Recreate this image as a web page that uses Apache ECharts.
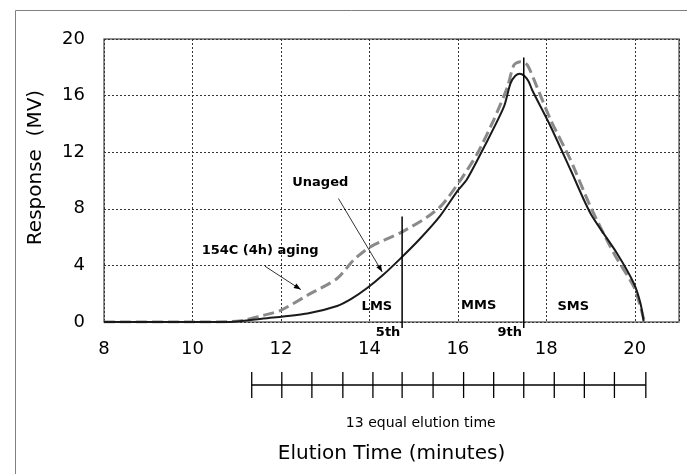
<!DOCTYPE html>
<html>
<head>
<meta charset="utf-8">
<script src="https://cdn.jsdelivr.net/npm/echarts@6/dist/echarts.min.js"></script>
<style>
html, body { margin: 0; padding: 0; background: #fff; }
#chart { width: 687px; height: 474px; }
</style>
</head>
<body>
<div id="chart"></div>
<script>
// Chromatogram: elution time (minutes) vs. detector response (MV)
const unagedTime = [8.0, 9.0, 10.0, 10.85, 11.6, 12.6, 13.27, 13.6, 13.95, 14.3, 14.7, 15.15, 15.6, 16.0, 16.2, 16.6, 17.04, 17.19, 17.3, 17.4, 17.5, 17.6, 17.68, 18.1, 18.55, 19.0, 19.6, 19.98, 20.13, 20.2];
const unagedResp = [0, 0, 0, 0, 0.24, 0.6, 1.13, 1.65, 2.4, 3.3, 4.48, 5.9, 7.5, 9.3, 10.05, 12.4, 15.2, 16.87, 17.4, 17.55, 17.4, 17.0, 16.4, 13.8, 10.74, 7.67, 4.84, 2.72, 1.3, 0.05];

const agedTime = [8.0, 10.0, 11.0, 11.6, 12.0, 12.6, 13.27, 13.64, 14.02, 14.7, 15.3, 15.65, 16.06, 16.44, 16.81, 17.12, 17.27, 17.42, 17.57, 17.79, 18.1, 18.55, 19.0, 19.53, 19.98, 20.13, 20.21];
const agedResp = [0, 0, 0.05, 0.47, 0.83, 1.89, 3.07, 4.37, 5.31, 6.3, 7.4, 8.3, 10.03, 11.9, 14.27, 16.6, 18.17, 18.4, 18.17, 16.6, 14.27, 11.44, 8.14, 4.84, 2.48, 1.06, 0.12];

// Axis ticks
const timeTicks = { min: 8, max: 21, step: 2 };
const respTicks = { min: 0, max: 20, step: 4 };

// Fraction boundaries (5th and 9th of the 13 equal elution-time slices)
const dividerTime = [14.74, 17.49];
const dividerTop = [7.45, 18.7];
const dividerName = ['5th', '9th'];

// Edges of the 13 equal elution-time slices
const sliceEdges = [11.34, 12.02, 12.70, 13.40, 14.08, 14.74, 15.44, 16.13, 16.81, 17.49, 18.18, 18.86, 19.54, 20.25];

// Molecular-size region names and where they sit
const regionName = ['LMS', 'MMS', 'SMS'];
const regionTime = [14.17, 16.47, 18.61];
const regionResp = [1.11, 1.18, 1.06];

// Callouts: text, its anchor, and the arrow (from -> to) in data units
const calloutText = ['Unaged', '154C (4h) aging'];
const calloutAt = [[12.89, 9.84], [11.53, 5.02]];
const calloutFrom = [[13.30, 8.73], [11.64, 3.94]];
const calloutTo = [[14.29, 3.54], [12.45, 2.29]];

const toPairs = (xs, ys) => xs.map((x, i) => [x, ys[i]]);

const boldFont = 'bold 13px "DejaVu Sans", sans-serif';

function arrowHead(p0, p1, len, half) {
  const dx = p1[0] - p0[0], dy = p1[1] - p0[1];
  const d = Math.hypot(dx, dy) || 1;
  const ux = dx / d, uy = dy / d;
  const bx = p1[0] - ux * len, by = p1[1] - uy * len;
  return [p1, [bx - uy * half, by + ux * half], [bx + uy * half, by - ux * half]];
}

function renderOverlay(params, api) {
  const kids = [];
  // divider lines and their labels
  dividerTime.forEach((t, i) => {
    const top = api.coord([t, dividerTop[i]]);
    const bot = api.coord([t, 0]);
    kids.push({ type: 'line', shape: { x1: top[0], y1: top[1], x2: bot[0], y2: bot[1] + 6 },
      style: { stroke: '#000', lineWidth: 1.5 } });
    kids.push({ type: 'text', style: { text: dividerName[i], x: bot[0] - 14, y: bot[1] + 11,
      font: boldFont, fill: '#000', align: 'center', verticalAlign: 'middle' } });
  });
  // region names
  regionName.forEach((n, i) => {
    const p = api.coord([regionTime[i], regionResp[i]]);
    kids.push({ type: 'text', style: { text: n, x: p[0], y: p[1], font: boldFont, fill: '#000',
      align: 'center', verticalAlign: 'middle' } });
  });
  // callouts
  calloutText.forEach((t, i) => {
    const p = api.coord(calloutAt[i]);
    kids.push({ type: 'text', style: { text: t, x: p[0], y: p[1], font: boldFont, fill: '#000',
      align: 'center', verticalAlign: 'middle' } });
    const a = api.coord(calloutFrom[i]);
    const b = api.coord(calloutTo[i]);
    kids.push({ type: 'line', shape: { x1: a[0], y1: a[1], x2: b[0], y2: b[1] },
      style: { stroke: '#000', lineWidth: 0.8 } });
    kids.push({ type: 'polygon', shape: { points: arrowHead(a, b, 7, 2.6) },
      style: { fill: '#000' } });
  });
  // ruler of 13 equal slices, drawn beneath the time axis
  const base = api.coord([timeTicks.min, 0]);
  const rulerY = base[1] + 63;
  const first = api.coord([sliceEdges[0], 0])[0];
  const last = api.coord([sliceEdges[sliceEdges.length - 1], 0])[0];
  kids.push({ type: 'line', shape: { x1: first, y1: rulerY, x2: last, y2: rulerY },
    style: { stroke: '#000', lineWidth: 1.3 } });
  sliceEdges.forEach(t => {
    const x = api.coord([t, 0])[0];
    kids.push({ type: 'line', shape: { x1: x, y1: rulerY - 13, x2: x, y2: rulerY + 13 },
      style: { stroke: '#000', lineWidth: 1.3 } });
  });
  kids.push({ type: 'text', style: { text: '13 equal elution time', x: (first + last) / 2 - 28, y: rulerY + 38,
    font: '14px "DejaVu Sans", sans-serif', fill: '#000', align: 'center', verticalAlign: 'middle' } });
  return { type: 'group', children: kids };
}

const chart = echarts.init(document.getElementById('chart'), null, { renderer: 'canvas' });

chart.setOption({
  animation: false,
  backgroundColor: '#fff',
  graphic: [{
    type: 'rect', left: 13, top: 8, silent: true,
    shape: { width: 700, height: 500 },
    style: { fill: 'none', stroke: '#808080', lineWidth: 1 }
  }],
  grid: {
    left: 104, right: 8, top: 39, bottom: 152,
    show: true, borderColor: '#6e6e6e', borderWidth: 1.5, backgroundColor: 'transparent'
  },
  xAxis: {
    type: 'value', min: timeTicks.min, max: timeTicks.max, interval: timeTicks.step,
    name: 'Elution Time (minutes)', nameLocation: 'middle', nameGap: 122,
    nameTextStyle: { fontFamily: 'DejaVu Sans', fontSize: 20, color: '#000' },
    axisLine: { show: false }, axisTick: { show: false },
    axisLabel: { showMaxLabel: false, margin: 18, fontFamily: 'DejaVu Sans', fontSize: 18, color: '#000' },
    splitLine: { show: true, lineStyle: { color: '#333', width: 1, type: [2, 2] } }
  },
  yAxis: {
    type: 'value', min: respTicks.min, max: respTicks.max, interval: respTicks.step,
    name: 'Response  (MV)', nameLocation: 'middle', nameGap: 58,
    nameTextStyle: { fontFamily: 'DejaVu Sans', fontSize: 20, color: '#000', padding: [0, 0, 0, 26] },
    axisLine: { show: false }, axisTick: { show: false },
    axisLabel: { margin: 19, fontFamily: 'DejaVu Sans', fontSize: 18, color: '#000' },
    splitLine: { show: true, lineStyle: { color: '#333', width: 1, type: [2, 2] } }
  },
  series: [
    {
      name: '154C (4h) aging', type: 'line', data: toPairs(agedTime, agedResp),
      smooth: 0.25, showSymbol: false, symbol: 'none',
      lineStyle: { color: '#8a8a8a', width: 3, type: [11, 5] }, z: 3
    },
    {
      name: 'Unaged', type: 'line', data: toPairs(unagedTime, unagedResp),
      smooth: 0.25, showSymbol: false, symbol: 'none',
      lineStyle: { color: '#1a1a1a', width: 2 }, z: 4
    },
    {
      type: 'custom', data: [0], renderItem: renderOverlay, clip: false, silent: true, z: 5
    }
  ]
});
</script>
</body>
</html>
